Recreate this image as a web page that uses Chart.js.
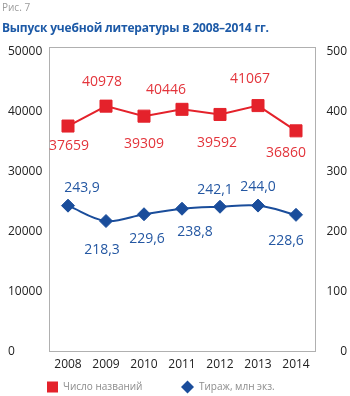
<!DOCTYPE html>
<html>
<head>
<meta charset="utf-8">
<script src="https://cdn.jsdelivr.net/npm/chart.js"></script>
<style>
  body { margin: 0; background: #fff; }
  #wrap { position: relative; width: 350px; height: 396px; }
  #fig { position: absolute; left: 2px; top: 0px; font: 10px 'Open Sans'; color: #9c9c9c; }
  #ttl { position: absolute; left: 2px; top: 19px; font: bold 12px 'Open Sans'; color: #1d5aa7; letter-spacing: -0.2px; }
  canvas { position: absolute; left: 0; top: 0; }
</style>
</head>
<body>
<div id="wrap">
  <canvas id="chart" width="350" height="396"></canvas>
  <div id="fig">Рис. 7</div>
  <div id="ttl">Выпуск учебной литературы в 2008–2014 гг.</div>
</div>
<script>
const years = ['2008', '2009', '2010', '2011', '2012', '2013', '2014'];
const titleCounts = [37659, 40978, 39309, 40446, 39592, 41067, 36860];
const printRuns = [243.9, 218.3, 229.6, 238.8, 242.1, 244.0, 228.6];
const leftMax = 50000, leftStep = 10000;
const rightMax = 500, rightStep = 100;

// where each value label sits relative to its point [dx, dy]
const redShift = [[1, 20], [-4, -24], [0, 28], [-16, -19], [-3, 29], [-8, -27], [-10, 22]];
const blueShift = [[14, -18], [-4, 29], [3, 25], [13, 23], [-5, -17], [0, -19], [-10, 26]];

const RED = '#e4222b';
const BLUE = '#1a4d9b';
const FONT = "'Open Sans'";

const frame = {
  id: 'frame',
  beforeDatasetsDraw(chart) {
    const a = chart.chartArea, c = chart.ctx;
    c.save();
    c.strokeStyle = '#b0b0b0';
    c.lineWidth = 1;
    c.strokeRect(Math.round(a.left) + 0.5, Math.round(a.top) - 4.5, Math.round(a.right - a.left), Math.round(a.bottom - a.top) + 4);
    c.restore();
  }
};

const valueLabels = {
  id: 'valueLabels',
  afterDatasetsDraw(chart) {
    const c = chart.ctx;
    c.save();
    c.font = '14px ' + FONT;
    c.textAlign = 'center';
    c.textBaseline = 'middle';
    chart.data.datasets.forEach((ds, di) => {
      const meta = chart.getDatasetMeta(di);
      meta.data.forEach((pt, i) => {
        const s = ds.labelShift[i];
        c.fillStyle = ds.labelColor;
        c.fillText(ds.fmt(ds.data[i]), pt.x + s[0], pt.y + s[1]);
      });
    });
    c.restore();
  }
};

const legendRow = {
  id: 'legendRow',
  afterDraw(chart) {
    const c = chart.ctx;
    const y = 387;
    const items = [{ x: 47, ds: chart.data.datasets[0] }, { x: 181, ds: chart.data.datasets[1] }];
    c.save();
    c.font = '10px ' + FONT;
    c.textBaseline = 'middle';
    c.textAlign = 'left';
    items.forEach(it => {
      c.fillStyle = it.ds.backgroundColor;
      if (it.ds.pointStyle === 'rect') {
        c.fillRect(it.x, y - 5.5, 11, 11);
      } else {
        c.beginPath();
        c.moveTo(it.x, y); c.lineTo(it.x + 6.5, y - 6.5); c.lineTo(it.x + 13, y); c.lineTo(it.x + 6.5, y + 6.5);
        c.closePath(); c.fill();
      }
      c.fillStyle = '#8c8c8c';
      c.fillText(it.ds.label, it.x + (it.ds.pointStyle === 'rect' ? 16 : 18), y);
    });
    c.restore();
  }
};

const plain = v => String(v);

new Chart(document.getElementById('chart'), {
  type: 'line',
  data: {
    labels: years,
    datasets: [
      {
        label: 'Число названий',
        data: titleCounts,
        yAxisID: 'y',
        borderColor: RED,
        backgroundColor: RED,
        borderWidth: 2,
        pointStyle: 'rect',
        pointRadius: 8.5,
        pointBorderWidth: 1,
        tension: 0,
        labelColor: '#e3343b',
        labelShift: redShift,
        fmt: v => String(v)
      },
      {
        label: 'Тираж, млн экз.',
        data: printRuns,
        yAxisID: 'y1',
        borderColor: BLUE,
        backgroundColor: BLUE,
        borderWidth: 2,
        pointStyle: 'rectRot',
        pointRadius: 6.5,
        pointBorderWidth: 1,
        tension: 0.35,
        labelColor: '#2457a2',
        labelShift: blueShift,
        fmt: v => v.toFixed(1).replace('.', ',')
      }
    ]
  },
  options: {
    responsive: false,
    animation: false,
    layout: { padding: { left: 8, right: 3, top: 52, bottom: 24 } },
    plugins: {
      legend: { display: false },
      tooltip: { enabled: false }
    },
    scales: {
      x: {
        offset: true,
        grid: { display: false, drawTicks: false },
        border: { display: false },
        ticks: { color: '#222', font: { family: FONT, size: 12 }, padding: 5 },
        afterFit: s => { s.height = 20; }
      },
      y: {
        position: 'left',
        min: 0,
        max: leftMax,
        grid: { display: false, drawTicks: false },
        border: { display: false },
        ticks: { stepSize: leftStep, crossAlign: 'far', color: '#222', font: { family: FONT, size: 12 }, callback: plain },
        afterFit: s => { s.width = 41; }
      },
      y1: {
        position: 'right',
        min: 0,
        max: rightMax,
        grid: { display: false, drawTicks: false },
        border: { display: false },
        ticks: { stepSize: rightStep, crossAlign: 'far', color: '#222', font: { family: FONT, size: 12 }, callback: plain },
        afterFit: s => { s.width = 32; }
      }
    }
  },
  plugins: [frame, valueLabels, legendRow]
});
</script>
</body>
</html>
